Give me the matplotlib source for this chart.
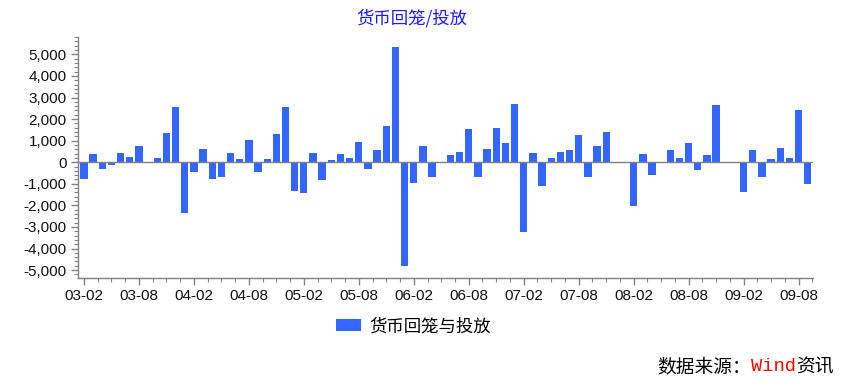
import matplotlib
matplotlib.use("Agg")
import matplotlib.pyplot as plt
from matplotlib.ticker import FuncFormatter, MultipleLocator, FixedLocator
from matplotlib.patches import Patch
import pandas as pd

plt.rcParams['font.family'] = ['Liberation Sans', 'Noto Sans CJK SC', 'DejaVu Sans']

months = [p.strftime('%y-%m') for p in pd.period_range('2003-02', '2009-09', freq='M')]
values = [-790, 370, -310, -140, 430, 265, 730, 0, 200, 1360,
          2580, -2350, -430, 620, -790, -665, 430, 140, 1020, -430,
          140, 1300, 2580, -1315, -1410, 430, -835, 90, 370, 200,
          960, -310, 560, 1670, 5340, -4800, -960, 730, -665, 0,
          325, 495, 1550, -665, 620, 1610, 900, 2720, -3235, 430,
          -1080, 200, 495, 560, 1240, -665, 730, 1420, 0, 0,
          -2010, 370, -600, 0, 560, 200, 900, -370, 325, 2650,
          0, 0, -1360, 560, -665, 140, 665, 200, 2415, -1005]
series_name = '货币回笼与投放'
title = '货币回笼/投放'
yticks = list(range(-5000, 5001, 1000))

bar_color = '#3366ff'
axis_gray = '#808080'

fig = plt.figure(figsize=(8.54, 3.83), dpi=100)
ax = fig.add_axes([0.0913, 0.274, 0.861, 0.629])

x = list(range(len(values)))
ax.bar(x, values, width=0.8, color=bar_color, zorder=2)
ax.axhline(0, color=axis_gray, lw=1, zorder=3)

ax.set_xlim(-0.65, len(values) - 0.4)
ax.set_ylim(-5370, 5800)

ax.set_yticks(yticks)
ax.yaxis.set_minor_locator(MultipleLocator(200))
ax.yaxis.set_major_formatter(FuncFormatter(lambda v, p: f"{int(v):,}"))

major_idx = list(range(0, len(values), 6))
ax.set_xticks(major_idx)
ax.set_xticklabels([months[i] for i in major_idx])
ax.xaxis.set_minor_locator(FixedLocator([i + 1.5 * k for i in major_idx for k in (1, 2, 3)]))

for s in ['top', 'right']:
    ax.spines[s].set_visible(False)
for s in ['left', 'bottom']:
    ax.spines[s].set_color(axis_gray)
    ax.spines[s].set_linewidth(1)

ax.tick_params(axis='both', which='major', direction='out', length=5, width=1,
               color=axis_gray, labelsize=11, labelcolor='#111111', pad=3)
ax.tick_params(axis='both', which='minor', direction='out', length=3, width=0.8,
               color=axis_gray)

fig.text(0.482, 0.953, title, ha='center', va='center', color='#1a1aff',
         fontsize=12.5, family=['Noto Sans CJK SC'])

leg = fig.legend(handles=[Patch(facecolor=bar_color, edgecolor='none', label=series_name)],
                 loc='center', bbox_to_anchor=(0.484, 0.148), frameon=False,
                 handlelength=1.45, handleheight=0.65, handletextpad=0.5,
                 prop={'family': ['Noto Sans CJK SC'], 'size': 12.5})

t1 = fig.text(0.770, 0.042, '数据来源：', ha='left', va='center', fontsize=13.5,
              family=['Noto Sans CJK SC'], color='black')
a2 = ax.annotate('Wind', xycoords=t1, xy=(1, 0.5), va='center', ha='left',
                 fontsize=13.5, family=['Liberation Mono'], color='red',
                 annotation_clip=False)
a3 = ax.annotate('资讯', xycoords=a2, xy=(1, 0.5), va='center', ha='left',
                 fontsize=13.5, family=['Noto Sans CJK SC'], color='black',
                 annotation_clip=False)

fig.savefig('out.png', dpi=100)
